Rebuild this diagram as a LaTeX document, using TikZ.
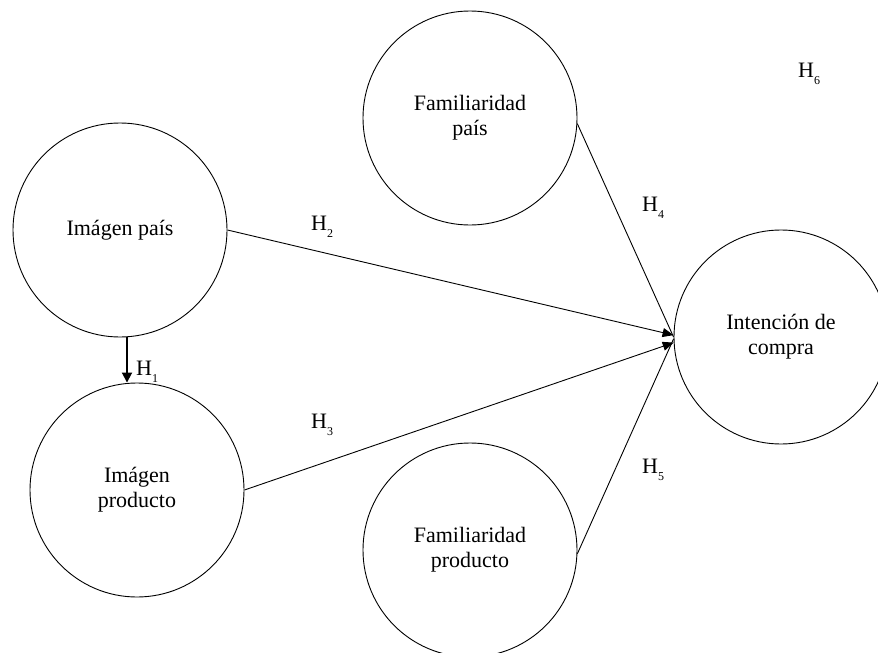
\documentclass[tikz,border=0pt]{standalone}
\usepackage{fontspec}
\setmainfont{Liberation Serif}
\usetikzlibrary{arrows.meta,positioning,calc}
\newcommand{\hyp}[1]{H\raisebox{-0.36em}{\fontsize{12}{12}\selectfont #1}}

\begin{document}
\begin{tikzpicture}[
    x=1pt, y=-1pt,
    construct/.style={draw, circle, line width=0.9pt, minimum size=214pt, inner sep=0pt, align=center, font=\fontsize{22}{25}\selectfont},
    link/.style={line width=0.9pt, -{Stealth[length=11pt, width=9pt, inset=0pt]}},
    plainlink/.style={line width=0.9pt},
    mainlink/.style={line width=1.8pt, -{Stealth[length=10pt, width=10pt, inset=0pt]}},
    hlabel/.style={anchor=base west, inner sep=0pt, font=\fontsize{22}{25}\selectfont}
  ]
  \useasboundingbox (0,0) rectangle (878,653);

  \node[construct] (ip) at (120,230) {Imágen país};
  \node[construct] (iprod) at (137,490) {Imágen\\producto};
  \node[construct] (fp) at (470,118) {Familiaridad\\país};
  \node[construct] (fprod) at (470,550) {Familiaridad\\producto};
  \node[construct] (ic) at (781,337) {Intención de\\compra};

  \coordinate (h1x) at (127,0);
  \draw[mainlink] (ip.south -| h1x) -- (iprod.north -| h1x);
  \draw[link] (ip.east) -- (ic.179);
  \draw[link] (iprod.east) -- (ic.183);
  \draw[plainlink] (fp.-3) -- (ic.west);
  \draw[plainlink] (fprod.-2) -- (ic.181);

  \node[hlabel] (h1) at (136,375) {\hyp{1}};
  \node[hlabel] (h2) at (311,230) {\hyp{2}};
  \node[hlabel] (h3) at (311,428) {\hyp{3}};
  \node[hlabel] (h4) at (642,211) {\hyp{4}};
  \node[hlabel] (h5) at (642,473) {\hyp{5}};
  \node[hlabel] (h6) at (798,77) {\hyp{6}};
\end{tikzpicture}
\end{document}
